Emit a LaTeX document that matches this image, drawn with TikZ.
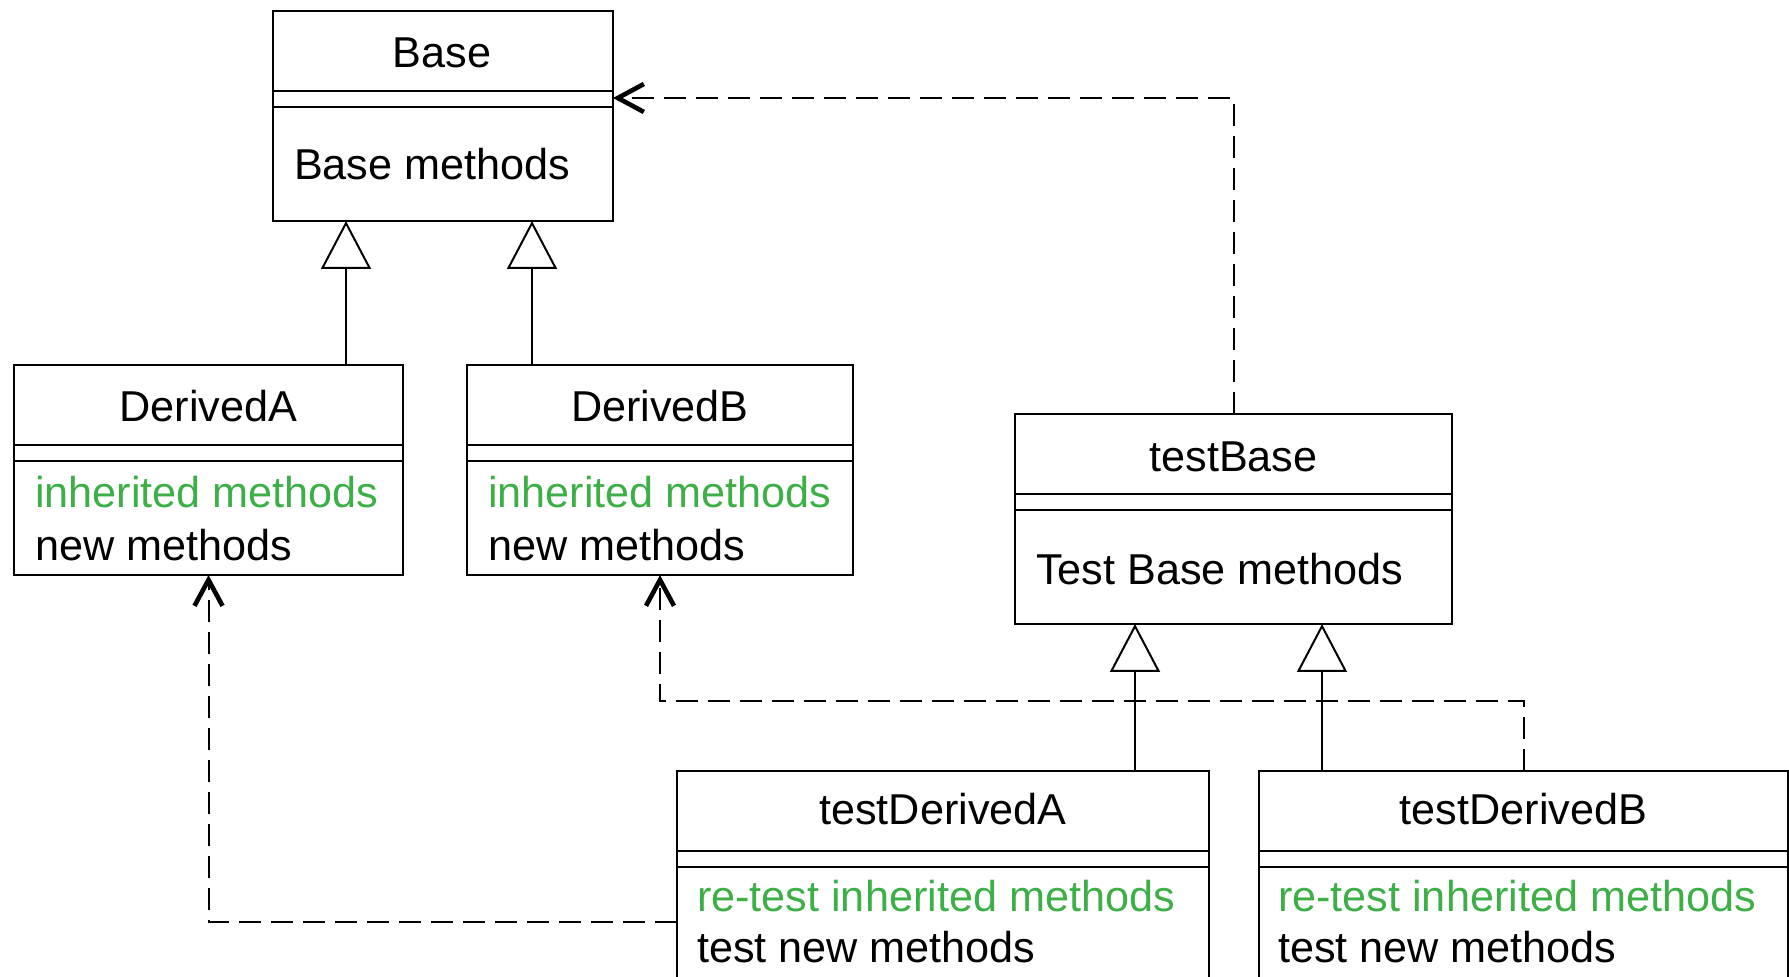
\documentclass[tikz,border=0pt]{standalone}
\usepackage{fontspec}
\setmainfont{Liberation Sans}
\usetikzlibrary{arrows.meta,calc,fit}
\definecolor{inhgreen}{RGB}{60,175,70}
\newcommand\umldiv[1]{%
  \draw ($(#1.north west)+(0,80)$) -- ($(#1.north east)+(0,80)$);
  \draw ($(#1.north west)+(0,96)$) -- ($(#1.north east)+(0,96)$);}
\begin{document}
\begin{tikzpicture}[x=0.5pt,y=-0.5pt,line width=1pt,
  box/.style={draw,inner sep=0pt,outer sep=0pt,rectangle},
  txt/.style={inner sep=0pt,font=\fontsize{21.6pt}{26pt}\selectfont},
  ttl/.style={txt,anchor=base},
  mth/.style={txt,anchor=base west},
  grn/.style={mth,text=inhgreen},
  inh/.style={-{Triangle[open,length=24pt,width=25pt,fill=white]}},
  dep/.style={dash pattern=on 11pt off 5pt,-{Straight Barb[length=13pt,width=14pt,line width=2.3pt]}}]
\useasboundingbox (0,0) rectangle (1789,977);
\clip (0,0) rectangle (1789,977);
% boxes
\node[box,fit={(273,11) (613,221)}] (base) {};
\node[box,fit={(14,365) (403,575)}] (dA) {};
\node[box,fit={(467,365) (853,575)}] (dB) {};
\node[box,fit={(1015,414) (1452,624)}] (tB) {};
\node[box,fit={(677,771) (1209,1000)}] (tdA) {};
\node[box,fit={(1259,771) (1788,1000)}] (tdB) {};
\umldiv{base}\umldiv{dA}\umldiv{dB}\umldiv{tB}\umldiv{tdA}\umldiv{tdB}
% texts
\node[ttl] (baseT) at (442,68) {Base};
\node[mth] (baseM) at (293,180) {Base methods};
\node[ttl] (dAT) at (208.5,422) {DerivedA};
\node[grn] (dAG) at (34,508) {inherited methods};
\node[mth] (dAN) at (34,561) {new methods};
\node[ttl] (dBT) at (660,422) {DerivedB};
\node[grn] (dBG) at (487,508) {inherited methods};
\node[mth] (dBN) at (487,561) {new methods};
\node[ttl] (tBT) at (1233.5,472) {testBase};
\node[mth] (tBM) at (1035,585) {Test Base methods};
\node[ttl] (tdAT) at (943,825) {testDerivedA};
\node[grn] (tdAG) at (696,912) {re-test inherited methods};
\node[mth] (tdAN) at (696,963) {test new methods};
\node[ttl] (tdBT) at (1523.5,825) {testDerivedB};
\node[grn] (tdBG) at (1277,912) {re-test inherited methods};
\node[mth] (tdBN) at (1277,963) {test new methods};
% inheritance
\draw[inh] ($(dA.north)+(137.5,0)$) coordinate (iA) -- (iA |- base.south);
\draw[inh] ($(dB.north)+(-128,0)$) coordinate (iB) -- (iB |- base.south);
\draw[inh] ($(tdA.north)+(192,0)$) coordinate (itA) -- (itA |- tB.south);
\draw[inh] ($(tdB.north)+(-201.5,0)$) coordinate (itB) -- (itB |- tB.south);
% dependencies
\draw[dep] (tB.north) |- ($(base.east)+(0,-18)$);
\draw[dep] (tdB.north) -- ++(0,-70) -| (dB.south);
\draw[dep] ($(tdA.west)+(0,36.5)$) -| (dA.south);
\end{tikzpicture}
\end{document}
